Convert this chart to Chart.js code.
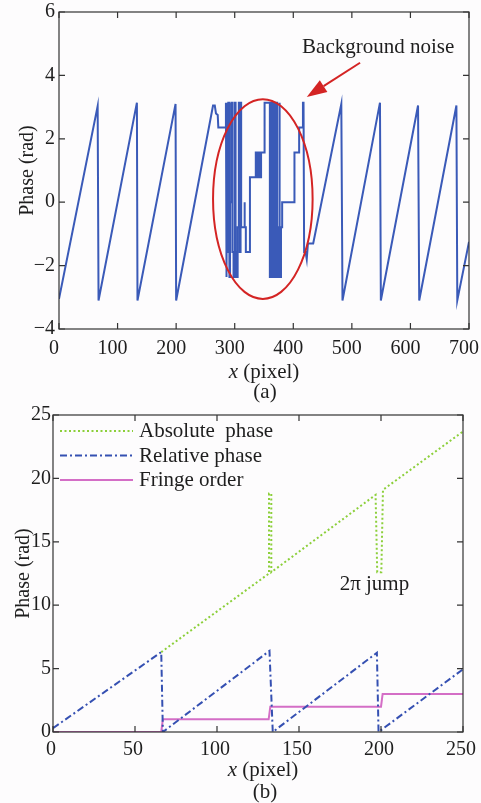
<!DOCTYPE html>
<html>
<head>
<meta charset="utf-8">
<script src="https://cdn.jsdelivr.net/npm/chart.js@4.4.0/dist/chart.umd.min.js"></script>
<style>
  body { margin: 0; background: #fdfcfd; }
  #wrap { position: relative; width: 481px; height: 803px; }
  canvas { position: absolute; left: 0; }
  #chartA { top: 0; }
  #chartB { top: 405px; }
</style>
</head>
<body>
<div id="wrap">
  <canvas id="chartA" width="481" height="405"></canvas>
  <canvas id="chartB" width="481" height="398"></canvas>
</div>
<script>
// (a) wrapped phase along one row, [x pixel, phase rad]
const wrappedPhase = [
  [0, -3.05], [66, 3.03], [67.5, -3.1], [133, 3.14], [134, -3.1], [199, 3.1], [200, -3.1], [263, 3.05],
  [266, 3.05], [268, 2.8], [271, 2.75], [272, 2.36], [285, 2.36],
  [285, 3.14], [286, -2.36], [287, 3.14], [288, -1.57], [289, -1.57], [289, 3.14], [290.5, 3.14],
  [291, -2.36], [292, -2.36], [292, 0], [294.5, 0], [294.5, 3.14], [296, 3.14], [296, -1.57],
  [298, -1.57], [298, -2.36], [300, -2.36], [300, 3.14], [301.5, 3.14], [301.5, -1.57], [303, -1.57],
  [303, -2.36], [305, -2.36], [305, -0.79], [307, -0.79], [307, 3.14], [308.5, 3.14], [308.5, -1.57],
  [310, -1.57], [310, 3.14], [311, 3.14], [311, -0.79], [316, -0.79], [316, 0], [317.5, 0],
  [317.5, -0.79], [319, -0.79], [319, -1.57], [326, -1.57], [326, 0.79], [336, 0.79], [336, 1.57],
  [338, 1.57], [338, 0.79], [339.5, 0.79], [339.5, 1.57], [341, 1.57], [341, 0.79], [342.5, 0.79],
  [342.5, 1.57], [344, 1.57], [344, 0.79], [345, 0.79], [345, 1.57], [351, 1.57], [351, 3.14], [360, 3.14],
  [360, -2.36], [361.5, -2.36], [361.5, 3.14], [363, 3.14], [363, -2.36], [364, -2.36], [364, 3.14],
  [365.5, 3.14], [365.5, -1.57], [366.5, -1.57], [366.5, -2.36], [368, -2.36], [368, 3.14], [369, 3.14],
  [369, -2.36], [371, -2.36], [371, 3.14], [372.5, 3.14], [372.5, -0.79], [374, -0.79], [374, -2.36],
  [376, -2.36], [376, 3.14], [377, 3.14], [377, -2.36], [379, -2.36], [379, -0.79], [381, -0.79],
  [381, 0], [402, 0], [402, 1.57], [410, 1.57], [410, 2.36], [416, 2.36], [416.5, 3.14], [417.5, 3.14],
  [418.5, -1.57], [421, -1.57], [423, -1.8], [425, -1.3], [434, -1.3],
  [482, 3.1], [484, -3.1], [548, 3.14], [549.5, -3.1], [613, 3.05], [615, -3.1], [678.5, 3.05],
  [680, -3.1], [700, -1.25]
];

// (b) unwrapping, [x pixel, value]
const absolutePhase = [
  [66, 6.3], [131.7, 12.5], [131.7, 18.8], [133.1, 18.8], [133.1, 12.6], [196.7, 18.7],
  [197.7, 12.6], [200.2, 12.6], [201.2, 19.1], [250, 23.7]
];
const relativePhase = [
  [0, 0.3], [66, 6.3], [67, 0], [132, 6.4], [134, 0], [197.5, 6.25], [198.5, 0], [250, 4.95]
];
const fringeOrder = [
  [0, 0], [66, 0], [67, 1], [131.5, 1], [132.5, 2], [200, 2], [201, 3], [250, 3]
];

const xTicksA = [0, 100, 200, 300, 400, 500, 600, 700];
const yTicksA = [-4, -2, 0, 2, 4, 6];
const xTicksB = [0, 50, 100, 150, 200, 250];
const yTicksB = [0, 5, 10, 15, 20, 25];

const SERIF = '"Liberation Serif", "Times New Roman", serif';
const INK = '#1e1e1e';
const tickFont = { family: SERIF, size: 20 };
const toXY = pts => pts.map(([x, y]) => ({ x, y }));
const minus = v => String(v).replace('-', '\u2212');

// box round the plot with short inward ticks on all four sides
const matlabFrame = {
  id: 'matlabFrame',
  afterDatasetsDraw(chart) {
    const { ctx, chartArea: a, scales: { x, y } } = chart;
    const len = 6;
    ctx.save();
    ctx.strokeStyle = '#333';
    ctx.lineWidth = 1.2;
    ctx.strokeRect(a.left, a.top, a.right - a.left, a.bottom - a.top);
    ctx.beginPath();
    x.ticks.forEach(t => {
      const px = x.getPixelForValue(t.value);
      ctx.moveTo(px, a.bottom); ctx.lineTo(px, a.bottom - len);
      ctx.moveTo(px, a.top); ctx.lineTo(px, a.top + len);
    });
    y.ticks.forEach(t => {
      const py = y.getPixelForValue(t.value);
      ctx.moveTo(a.left, py); ctx.lineTo(a.left + len, py);
      ctx.moveTo(a.right, py); ctx.lineTo(a.right - len, py);
    });
    ctx.stroke();
    ctx.restore();
  }
};

// "x (pixel)" with italic x, plus the (a)/(b) caption
const captions = {
  id: 'captions',
  afterDraw(chart, args, o) {
    const { ctx } = chart;
    ctx.save();
    ctx.fillStyle = INK;
    ctx.textBaseline = 'alphabetic';
    const it = 'italic 21px ' + SERIF, rm = '21px ' + SERIF;
    ctx.font = it;
    const w1 = ctx.measureText('x').width;
    ctx.font = rm;
    const w2 = ctx.measureText(' (pixel)').width;
    const x0 = o.titleX - (w1 + w2) / 2;
    ctx.textAlign = 'left';
    ctx.font = it;
    ctx.fillText('x', x0, o.titleY);
    ctx.font = rm;
    ctx.fillText(' (pixel)', x0 + w1, o.titleY);
    ctx.textAlign = 'center';
    ctx.fillText(o.caption, o.captionX, o.captionY);
    ctx.restore();
  }
};

// red ellipse, arrow and label on panel (a)
const noiseMark = {
  id: 'noiseMark',
  afterDatasetsDraw(chart) {
    const { ctx, scales: { x, y } } = chart;
    const red = '#d42424';
    ctx.save();
    ctx.strokeStyle = red;
    ctx.fillStyle = red;
    ctx.lineWidth = 2;
    const cx = x.getPixelForValue(348), cy = y.getPixelForValue(0.1);
    const rx = x.getPixelForValue(348 + 85) - cx, ry = cy - y.getPixelForValue(0.1 + 3.15);
    ctx.beginPath();
    ctx.ellipse(cx, cy, rx, ry, 0, 0, Math.PI * 2);
    ctx.stroke();
    const tx = x.getPixelForValue(514), ty = y.getPixelForValue(4.4);
    const hx = x.getPixelForValue(423), hy = y.getPixelForValue(3.32);
    const ang = Math.atan2(hy - ty, hx - tx);
    const hl = 20, hw = 7;
    const bx = hx - hl * Math.cos(ang), by = hy - hl * Math.sin(ang);
    ctx.beginPath();
    ctx.moveTo(tx, ty); ctx.lineTo(bx, by);
    ctx.stroke();
    ctx.beginPath();
    ctx.moveTo(hx, hy);
    ctx.lineTo(bx + hw * Math.sin(ang), by - hw * Math.cos(ang));
    ctx.lineTo(bx - hw * Math.sin(ang), by + hw * Math.cos(ang));
    ctx.closePath();
    ctx.fill();
    ctx.fillStyle = INK;
    ctx.font = '21px ' + SERIF;
    ctx.textAlign = 'center';
    ctx.fillText('Background noise', x.getPixelForValue(545), y.getPixelForValue(4.71));
    ctx.restore();
  }
};

// inline legend and "2π jump" label on panel (b)
const unwrapMark = {
  id: 'unwrapMark',
  afterDatasetsDraw(chart) {
    const { ctx, chartArea: a, scales: { x, y } } = chart;
    ctx.save();
    ctx.font = '21px ' + SERIF;
    ctx.textBaseline = 'alphabetic';
    chart.data.datasets.forEach((ds, i) => {
      const ry = a.top + 16 + i * 24.5;
      ctx.strokeStyle = ds.borderColor;
      ctx.lineWidth = 2;
      ctx.setLineDash(ds.borderDash || []);
      ctx.beginPath();
      ctx.moveTo(a.left + 7, ry);
      ctx.lineTo(a.left + 80, ry);
      ctx.stroke();
      ctx.setLineDash([]);
      ctx.fillStyle = INK;
      ctx.fillText(ds.label, a.left + 86, ry + 6);
    });
    ctx.textAlign = 'center';
    ctx.fillText('2\u03c0 jump', x.getPixelForValue(196), y.getPixelForValue(11.2));
    ctx.restore();
  }
};

function axes(xMin, xMax, xTicks, yMin, yMax, yTicks, o) {
  return {
    x: {
      type: 'linear', min: xMin, max: xMax,
      grid: { display: false, drawTicks: false }, border: { display: false },
      ticks: { font: tickFont, color: INK, padding: o.xPad, labelOffset: o.labelOffset, maxRotation: 0, autoSkip: false, callback: minus },
      afterBuildTicks: s => { s.ticks = xTicks.map(v => ({ value: v })); },
      afterFit: s => { s.height = o.xHeight; s.paddingLeft = 0; s.paddingRight = 0; }
    },
    y: {
      min: yMin, max: yMax,
      grid: { display: false, drawTicks: false }, border: { display: false },
      ticks: { font: tickFont, color: INK, padding: o.yPad, autoSkip: false, callback: minus },
      afterBuildTicks: s => { s.ticks = yTicks.map(v => ({ value: v })); },
      title: { display: true, text: 'Phase (rad)', font: { family: SERIF, size: 20 }, color: INK, padding: { top: o.titlePad, bottom: 0 } },
      afterFit: s => { s.width = o.yWidth; s.paddingTop = 0; s.paddingBottom = 0; }
    }
  };
}

new Chart(document.getElementById('chartA'), {
  type: 'line',
  data: {
    datasets: [{
      label: 'Phase', data: toXY(wrappedPhase),
      borderColor: '#3a5ab8', borderWidth: 2, pointRadius: 0, tension: 0, fill: false
    }]
  },
  options: {
    responsive: false, animation: false, events: [],
    layout: { padding: { left: 0, top: 12, right: 12, bottom: 0 } },
    plugins: {
      legend: { display: false }, tooltip: { enabled: false },
      captions: { titleX: 264, titleY: 378, caption: '(a)', captionX: 265, captionY: 398 }
    },
    scales: axes(0, 700, xTicksA, -4, 6, yTicksA, { xPad: 8, labelOffset: -5, xHeight: 76, yPad: 4, yWidth: 59, titlePad: 16 })
  },
  plugins: [matlabFrame, noiseMark, captions]
});

new Chart(document.getElementById('chartB'), {
  type: 'line',
  data: {
    datasets: [
      { label: 'Absolute  phase', data: toXY(absolutePhase), borderColor: '#8ccf3a', borderDash: [2, 2.5], borderWidth: 2, pointRadius: 0, tension: 0, fill: false },
      { label: 'Relative phase', data: toXY(relativePhase), borderColor: '#3550b2', borderDash: [7, 3, 2, 3], borderWidth: 2, pointRadius: 0, tension: 0, fill: false },
      { label: 'Fringe order', data: toXY(fringeOrder), borderColor: '#d46ec6', borderWidth: 2, pointRadius: 0, tension: 0, fill: false }
    ]
  },
  options: {
    responsive: false, animation: false, events: [],
    layout: { padding: { left: 0, top: 10, right: 18, bottom: 0 } },
    plugins: {
      legend: { display: false }, tooltip: { enabled: false },
      captions: { titleX: 263, titleY: 371, caption: '(b)', captionX: 265, captionY: 393 }
    },
    scales: axes(0, 250, xTicksB, 0, 25, yTicksB, { xPad: 6, labelOffset: -2, xHeight: 71, yPad: 2, yWidth: 53, titlePad: 12 })
  },
  plugins: [matlabFrame, unwrapMark, captions]
});
</script>
</body>
</html>
